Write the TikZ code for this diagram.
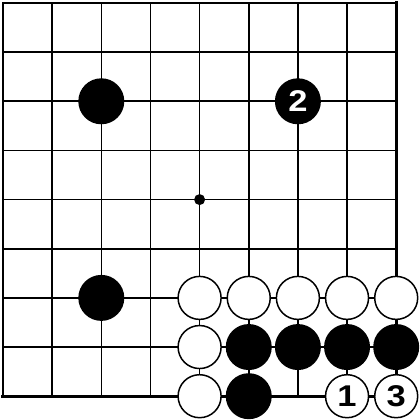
\documentclass[tikz,border=0pt]{standalone}
\usepackage{fontspec}
\newfontfamily\stonefont{Liberation Sans}
\newcommand{\wdig}[1]{\scalebox{1.15}[1]{#1}}
\begin{document}
\begin{tikzpicture}[
  gridline/.style={line width=1.6pt, black},
  edgethin/.style={line width=2pt, black},
  edgethick/.style={line width=3.3pt, black},
  bstone/.style={circle, fill=black, minimum size=46pt, inner sep=0pt},
  wstone/.style={circle, draw=black, line width=1.5pt, fill=white, minimum size=43pt, inner sep=0pt},
  numw/.style={text=white, inner sep=0pt, font=\stonefont\bfseries\fontsize{30}{30}\selectfont},
  numb/.style={text=black, inner sep=0pt, font=\stonefont\bfseries\fontsize{30}{30}\selectfont},
  starpt/.style={circle, fill=black, minimum size=11pt, inner sep=0pt}
]
\useasboundingbox (0pt,0pt) rectangle (420pt,420pt);
\fill[white] (0pt,0pt) rectangle (420pt,420pt);
\begin{scope}[shift={(3pt,417pt)}, x=49.15pt, y=-49.15pt]
  % interior grid
  \foreach \i in {1,...,7} {
    \draw[gridline] (\i,0) -- (\i,8);
    \draw[gridline] (0,\i) -- (8,\i);
  }
  % edges
  \draw[edgethin] (0,8) -- (0,0) -- (8,0);
  \draw[edgethick, line cap=rect] (8,0) -- (8,8) -- (0,8);
  % star point
  \node[starpt] (star) at (4,4) {};
  % black stones
  \node[bstone] (b22) at (2,2) {};
  \node[bstone] (b62) at (6,2) {};
  \node[numw] (n2) at (b62) {\wdig{2}};
  \node[bstone] (b26) at (2,6) {};
  \node[bstone] (b57) at (5,7) {};
  \node[bstone] (b67) at (6,7) {};
  \node[bstone] (b77) at (7,7) {};
  \node[bstone] (b87) at (8,7) {};
  \node[bstone] (b58) at (5,8) {};
  % white stones
  \foreach \c in {4,5,6,7,8} { \node[wstone] (w\c6) at (\c,6) {}; }
  \node[wstone] (w47) at (4,7) {};
  \node[wstone] (w48) at (4,8) {};
  \node[wstone] (w78) at (7,8) {};
  \node[numb] (n1) at (w78) {\wdig{1}};
  \node[wstone] (w88) at (8,8) {};
  \node[numb] (n3) at (w88) {\wdig{3}};
\end{scope}
\end{tikzpicture}
\end{document}
